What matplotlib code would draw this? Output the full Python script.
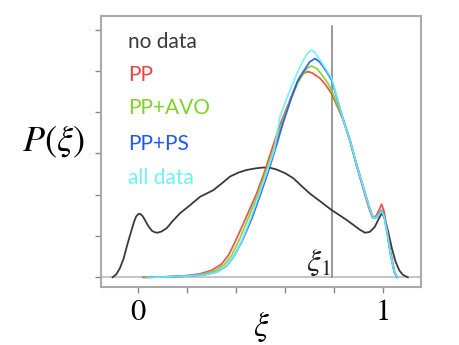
import matplotlib
matplotlib.use("Agg")
import matplotlib.pyplot as plt

plt.rcParams['mathtext.fontset'] = 'stix'

# ---- data ----
nodata_x = [-0.105, -0.09, -0.075, -0.06, -0.047, -0.037, -0.027, -0.018, -0.009, 0.0, 0.007,
            0.017, 0.027, 0.04, 0.055, 0.068, 0.078, 0.095, 0.116, 0.14, 0.17, 0.21, 0.252,
            0.306, 0.34, 0.374, 0.41, 0.442, 0.48, 0.51, 0.54, 0.565, 0.60, 0.633, 0.665,
            0.70, 0.745, 0.789, 0.82, 0.85, 0.88, 0.905, 0.925, 0.945, 0.965, 0.98, 0.993,
            1.005, 1.02, 1.035, 1.05, 1.065, 1.08, 1.10]
nodata_y = [0.0, 0.07, 0.22, 0.45, 0.74, 0.95, 1.15, 1.33, 1.47, 1.53, 1.54,
            1.49, 1.39, 1.25, 1.13, 1.09, 1.08, 1.11, 1.19, 1.36, 1.55, 1.74, 1.95,
            2.11, 2.27, 2.44, 2.54, 2.6, 2.64, 2.66, 2.65, 2.61, 2.52, 2.40, 2.22,
            2.03, 1.83, 1.63, 1.51, 1.39, 1.26, 1.15, 1.08, 1.1, 1.22, 1.4, 1.55,
            1.45, 1.1, 0.7, 0.38, 0.17, 0.06, 0.0]

pp_x = [0.02, 0.10, 0.18, 0.25, 0.30, 0.34, 0.37, 0.40, 0.44, 0.483, 0.515, 0.544, 0.58,
        0.619, 0.64, 0.66, 0.68, 0.694, 0.71, 0.742, 0.765, 0.789, 0.837, 0.864, 0.89,
        0.918, 0.94, 0.955, 0.97, 0.982, 0.993, 1.003, 1.015, 1.03, 1.045, 1.055]
pp_y = [0.0, 0.01, 0.03, 0.08, 0.17, 0.32, 0.55, 0.92, 1.45, 2.03, 2.55, 3.08, 3.72,
        4.29, 4.6, 4.86, 4.96, 4.98, 4.95, 4.82, 4.66, 4.45, 3.81, 3.3, 2.72,
        2.15, 1.7, 1.46, 1.48, 1.62, 1.77, 1.6, 1.15, 0.6, 0.15, 0.0]

ppavo_x = [0.03, 0.11, 0.19, 0.26, 0.31, 0.35, 0.38, 0.413, 0.45, 0.49, 0.52, 0.551, 0.585,
           0.622, 0.65, 0.673, 0.69, 0.708, 0.73, 0.755, 0.772, 0.789, 0.837, 0.864, 0.89,
           0.918, 0.94, 0.957, 0.972, 0.983, 0.993, 1.003, 1.015, 1.03, 1.045, 1.057]
ppavo_y = [0.0, 0.01, 0.03, 0.07, 0.15, 0.3, 0.52, 0.92, 1.45, 2.03, 2.55, 3.08, 3.72,
           4.3, 4.7, 4.93, 5.07, 5.12, 5.05, 4.86, 4.72, 4.53, 3.81, 3.32, 2.75,
           2.19, 1.75, 1.45, 1.47, 1.56, 1.63, 1.5, 1.1, 0.55, 0.12, 0.0]

ppps_x = [0.04, 0.12, 0.20, 0.27, 0.32, 0.36, 0.39, 0.427, 0.465, 0.50, 0.53, 0.558, 0.59,
          0.625, 0.65, 0.673, 0.70, 0.721, 0.74, 0.755, 0.772, 0.789, 0.837, 0.864, 0.89,
          0.918, 0.94, 0.959, 0.973, 0.984, 0.993, 1.003, 1.015, 1.03, 1.045, 1.058]
ppps_y = [0.0, 0.01, 0.03, 0.06, 0.13, 0.27, 0.5, 0.92, 1.45, 2.03, 2.55, 3.08, 3.72,
          4.35, 4.75, 4.98, 5.22, 5.30, 5.22, 5.10, 4.95, 4.78, 3.81, 3.32, 2.75,
          2.19, 1.75, 1.43, 1.45, 1.55, 1.61, 1.5, 1.1, 0.55, 0.12, 0.0]

alldata_x = [0.04, 0.12, 0.20, 0.27, 0.32, 0.36, 0.39, 0.425, 0.46, 0.495, 0.525, 0.555, 0.578,
             0.619, 0.64, 0.66, 0.685, 0.70, 0.708, 0.72, 0.742, 0.765, 0.789, 0.837, 0.864,
             0.89, 0.918, 0.94, 0.959, 0.973, 0.984, 0.993, 1.003, 1.015, 1.03, 1.045, 1.058]
alldata_y = [0.0, 0.01, 0.03, 0.06, 0.13, 0.27, 0.5, 0.92, 1.45, 2.03, 2.55, 3.08, 3.89,
             4.53, 4.83, 5.10, 5.38, 5.48, 5.50, 5.45, 5.26, 5.05, 4.82, 3.81, 3.32,
             2.75, 2.19, 1.75, 1.43, 1.45, 1.54, 1.6, 1.48, 1.1, 0.55, 0.12, 0.0]

labels = ["no data", "PP", "PP+AVO", "PP+PS", "all data"]
colors = ["#3a3a3a", "#e8453c", "#7fd22a", "#2457f0", "#6ff0fb"]
xi1 = 0.79

series = [(nodata_x, nodata_y), (pp_x, pp_y), (ppavo_x, ppavo_y),
          (ppps_x, ppps_y), (alldata_x, alldata_y)]

fig = plt.figure(figsize=(4.6, 3.45), dpi=100)
ax = fig.add_axes([0.2196, 0.1681, 0.6957, 0.7855])

ax.axhline(0, color="#bbbbbb", lw=1.2, zorder=1)
ax.plot([xi1, xi1], [0, 6.08], color="#888888", lw=1.2, zorder=1)

for (xs, ys), c in zip(series[1:], colors[1:]):
    ax.plot(xs, ys, color=c, lw=1.3, zorder=3, alpha=0.9, solid_joinstyle="round")
ax.plot(series[0][0], series[0][1], color=colors[0], lw=1.3, zorder=2, solid_joinstyle="round")

ytxt = [5.70, 4.90, 4.09, 3.24, 2.40]
for lab, c, yy in zip(labels, colors, ytxt):
    ax.text(-0.04, yy, lab, color=c, fontsize=15, family="Lato", va="center", ha="left")

ax.text(xi1 - 0.004, 0.35, r"$\xi_1$", fontsize=23, ha="right", va="center", color="#222222")

ax.set_xlim(-0.152, 1.154)
ax.set_ylim(-0.235, 6.33)
ax.set_xticks([0, 0.2, 0.4, 0.6, 0.8, 1.0])
ax.set_xticklabels(["0", "", "", "", "", "1"])
ax.set_yticks([0, 1, 2, 3, 4, 5, 6])
ax.set_yticklabels([])
ax.tick_params(axis="both", direction="out", length=4, width=1, color="#888888",
               labelsize=22, pad=5)
for lab in ax.get_xticklabels():
    lab.set_family("STIXGeneral")
for sp in ax.spines.values():
    sp.set_color("#aaaaaa")
    sp.set_linewidth(1.5)

ax.set_xlabel(r"$\xi$", fontsize=24)
ax.xaxis.set_label_coords(0.5, -0.085)
ax.set_ylabel(r"$P(\xi)$", fontsize=26, rotation=0)
ax.yaxis.set_label_coords(-0.15, 0.47)

fig.savefig("out.png", dpi=100)
